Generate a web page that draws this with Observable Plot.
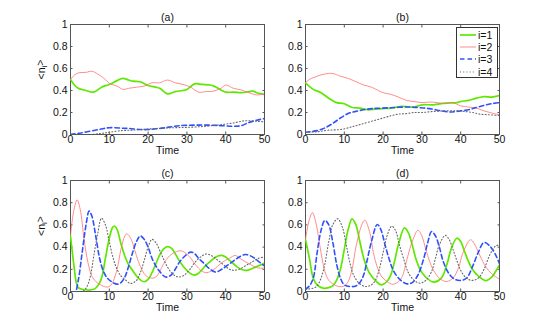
<!DOCTYPE html>
<html>
<head>
<meta charset="utf-8">
<script src="https://cdn.jsdelivr.net/npm/d3@7"></script>
<script src="https://cdn.jsdelivr.net/npm/@observablehq/plot@0.6"></script>
<style>
  html, body { margin: 0; padding: 0; background: #fff; }
  #chart { position: relative; width: 545px; height: 324px; font-family: "Liberation Sans", Arial, Helvetica, sans-serif; }
  #chart svg { position: absolute; }
  #legend { position: absolute; background: #fff; border: 1px solid #333; box-sizing: border-box; font-size: 10.5px; color: #111; }
  #legend .row { position: absolute; left: 0; height: 12px; display: flex; align-items: center; }
  #legend .row span { margin-left: 2px; }
</style>
</head>
<body>
<div id="chart"></div>
<script>
// ---------- data ----------
const xTicks = [0, 10, 20, 30, 40, 50];
const yTicks = [0, 0.2, 0.4, 0.6, 0.8, 1];
const seriesNames = ["i=1", "i=2", "i=3", "i=4"];
const seriesColors = ["#5ee800", "#ff7070", "#2f50ff", "#666666"];
const seriesWidths = [1.7, 0.8, 1.6, 1.1];
const seriesDashes = [null, null, "4.5,3", "1,2.2"];
const panelTitles = ["(a)", "(b)", "(c)", "(d)"];
const yLabel = "<n_i>";
const xLabel = "Time";

// panel (a)
const a1 = [[0,.5],[1,.45],[2,.42],[4,.40],[6,.385],[8,.43],[10,.455],[12,.49],[13.5,.51],[15,.495],[16,.485],[18,.48],[20,.445],[22,.43],[23,.42],[25,.37],[27,.39],[29,.40],[30,.41],[32,.46],[34,.455],[36,.45],[37,.44],[39,.40],[40,.385],[42,.385],[44,.38],[46,.39],[47,.395],[48,.38],[50,.365]];
const a2 = [[0,.5],[1,.54],[2,.56],[4,.565],[5.5,.575],[7,.55],[9,.5],[10,.465],[12,.44],[13.5,.41],[15,.42],[17,.43],[19,.44],[21,.47],[23,.47],[25,.495],[27,.47],[29,.455],[31,.43],[33,.385],[35,.39],[37,.395],[39,.425],[40,.45],[42,.42],[44,.405],[46,.38],[48,.36],[50,.37]];
const a3 = [[0,0],[2,.01],[5,.03],[8,.05],[10,.062],[13,.058],[15,.055],[18,.045],[20,.045],[23,.055],[26,.07],[28,.08],[32,.085],[36,.085],[39,.08],[42,.075],[44,.08],[46,.11],[48,.13],[50,.145]];
const a4 = [[0,0],[5,0],[8,.01],[10,.02],[13,.035],[16,.04],[20,.05],[25,.06],[30,.065],[35,.075],[39,.09],[42,.105],[45,.125],[48,.12],[50,.115]];

// panel (b)
const b1 = [[0,.47],[2,.41],[4,.38],[6,.33],[8,.29],[10,.28],[12,.245],[14,.24],[16,.225],[18,.23],[20,.235],[22,.24],[25,.255],[28,.25],[30,.27],[33,.27],[36,.285],[39,.29],[40,.30],[42,.31],[44,.33],[46,.345],[48,.34],[50,.355]];
const b2 = [[0,.47],[1,.5],[3,.53],[5,.55],[7,.555],[9,.53],[11,.51],[13,.48],[15,.45],[17,.43],[20,.38],[22,.365],[24,.34],[26,.31],[28,.30],[30,.29],[32,.295],[34,.29],[36,.28],[38,.29],[40,.26],[42,.25],[44,.24],[46,.215],[48,.195],[50,.18]];
const b3 = [[0,.02],[3,.035],[5,.06],[7,.10],[9,.15],[11,.19],[13,.21],[15,.225],[17,.235],[20,.24],[23,.245],[26,.25],[29,.245],[32,.235],[35,.215],[37,.205],[39,.21],[42,.225],[44,.245],[46,.265],[48,.28],[50,.29]];
const b4 = [[0,.02],[3,.025],[6,.04],[9,.045],[12,.07],[14,.09],[17,.12],[20,.15],[22,.17],[24,.185],[26,.19],[28,.20],[30,.20],[33,.21],[36,.215],[39,.215],[41,.21],[43,.20],[45,.185],[47,.18],[50,.172]];

// panel (c)
const c1 = [[0,.5],[1,.2],[1.5,.08],[2,.035],[3,.02],[6,.02],[7,.05],[8,.12],[9,.3],[10,.48],[10.8,.575],[11.3,.59],[12,.56],[13,.43],[14,.32],[15,.24],[16,.19],[17,.14],[18,.105],[19,.088],[20,.11],[21,.17],[22,.25],[23,.33],[24,.385],[25,.405],[26,.39],[27,.34],[28,.28],[29,.23],[30,.19],[31,.16],[32,.148],[33,.165],[34,.20],[35,.24],[36,.27],[37,.30],[38,.32],[39,.326],[40,.31],[41,.28],[42,.25],[43,.22],[44,.20],[45,.19],[46,.195],[47,.21],[48,.225],[49,.24],[50,.255]];
const c2 = [[0,.5],[0.8,.72],[1.7,.825],[2.5,.74],[3.5,.47],[4.5,.26],[5.5,.14],[6.5,.09],[8,.055],[9.5,.04],[10.5,.06],[12,.2],[13,.38],[14,.5],[14.5,.52],[15.5,.48],[16.5,.38],[17.5,.27],[18.5,.19],[19.5,.14],[21,.12],[22,.13],[23,.18],[24,.25],[25.5,.32],[27,.355],[28.5,.367],[29.5,.35],[31,.30],[32,.25],[33,.21],[34,.18],[35.2,.17],[37,.20],[39,.26],[41,.30],[42.5,.325],[44,.29],[46,.25],[48,.215],[49,.21],[50,.21]];
const c3 = [[0,0],[1.2,0],[2,.1],[3,.35],[4,.6],[4.8,.725],[5.5,.68],[6.5,.5],[7.5,.3],[8.5,.18],[9.5,.12],[10.5,.09],[12,.066],[13,.08],[14,.13],[15,.23],[16,.35],[17,.45],[18,.5],[19,.47],[20,.4],[21,.3],[22,.23],[23,.18],[24.5,.13],[26,.15],[27,.2],[28,.26],[29.5,.32],[31,.355],[32,.34],[33,.30],[34.5,.25],[36,.20],[37.5,.175],[39,.20],[41,.25],[43,.30],[45,.333],[47,.31],[48.5,.27],[50,.23]];
const c4 = [[0,0],[3,0],[4,.03],[5,.12],[6,.32],[7,.52],[8,.66],[9,.6],[10,.45],[11,.3],[12,.2],[13,.14],[14,.11],[15.5,.072],[17,.1],[18,.17],[19,.28],[20,.4],[21,.47],[22,.44],[23,.37],[24,.29],[25,.22],[26,.17],[27,.14],[28,.131],[29,.14],[30,.17],[31,.21],[32,.26],[33.5,.31],[35,.338],[36.5,.32],[38,.28],[39.5,.24],[41,.20],[42,.192],[43.5,.20],[45,.23],[47,.27],[48.5,.30],[50,.31]];

// panel (d)
const d1 = [[0,.47],[1,.3],[2,.12],[3,.06],[4.5,.03],[6,.035],[7,.05],[8,.1],[9,.2],[10,.38],[11,.56],[12,.655],[13,.6],[14,.45],[15,.3],[16,.2],[17,.14],[18,.1],[19.5,.06],[21,.09],[22,.15],[23,.28],[24,.43],[25.5,.573],[26.5,.53],[27.5,.42],[28.5,.29],[29.5,.2],[31,.13],[33,.085],[35,.12],[36.5,.25],[37.5,.38],[39,.48],[40,.45],[41,.36],[42,.27],[43,.2],[44.5,.14],[46.5,.098],[48,.13],[49,.18],[50,.24]];
const d2 = [[0,.47],[1,.65],[1.8,.71],[2.8,.6],[4,.35],[5,.18],[6,.1],[7,.07],[8.5,.045],[10,.05],[11,.09],[12,.2],[13,.4],[14.5,.6],[15.3,.643],[16.5,.54],[17.5,.35],[18.5,.22],[19.5,.14],[21,.09],[22.5,.065],[24,.09],[25,.14],[26,.27],[27.5,.45],[29,.552],[30,.5],[31,.38],[32,.27],[33,.19],[34.5,.12],[36.3,.09],[38,.12],[39.5,.22],[40.5,.34],[42.5,.466],[43.5,.43],[45,.32],[46.5,.22],[48,.16],[50,.11]];
const d3v = [[0,.02],[1,.05],[2,.12],[3,.35],[4,.55],[5,.64],[6,.6],[7,.45],[8,.25],[9,.12],[10,.06],[11.5,.045],[13,.05],[14,.08],[15,.15],[16,.3],[17,.45],[18.5,.604],[19.5,.55],[20.5,.42],[21.5,.3],[22.5,.2],[24,.12],[26,.07],[27.5,.08],[29,.15],[30.5,.3],[31.5,.44],[32.5,.54],[33.5,.5],[34.5,.4],[35.5,.27],[37,.16],[38.5,.11],[40,.10],[41.5,.12],[43,.22],[44.5,.35],[46,.442],[47.5,.41],[49,.33],[50,.25]];
const d4 = [[0,.02],[2,.03],[3,.05],[4,.12],[5,.25],[6,.45],[7,.6],[8.3,.655],[9.5,.58],[10.5,.42],[11.5,.25],[12.5,.14],[14,.07],[15.5,.045],[17,.06],[18,.1],[19,.2],[20,.35],[21,.5],[22.2,.588],[23.2,.55],[24.2,.42],[25.5,.27],[26.5,.17],[28,.1],[29.5,.075],[31,.1],[32.5,.18],[33.5,.3],[34.5,.42],[36,.506],[37,.47],[38,.38],[39,.28],[40,.19],[41.5,.12],[43,.10],[44.5,.12],[46,.2],[47.5,.33],[49,.41],[50,.42]];

const panelSeries = [[a1,a2,a3,a4],[b1,b2,b3,b4],[c1,c2,c3,c4],[d1,d2,d3v,d4]];

// ---------- layout ----------
const boxes = [
  {left: 0,   top: 0,   width: 272, height: 162, mL: 70, mR: 8,  mT: 24, mB: 28, yl: true},
  {left: 272, top: 0,   width: 273, height: 162, mL: 33, mR: 46, mT: 24, mB: 28, yl: false},
  {left: 0,   top: 162, width: 272, height: 162, mL: 70, mR: 8,  mT: 18, mB: 33, yl: true},
  {left: 272, top: 162, width: 273, height: 162, mL: 33, mR: 46, mT: 18, mB: 33, yl: false}
];

const chart = document.getElementById("chart");
const font = '"Liberation Sans", Arial, Helvetica, sans-serif';
const frameColor = "#555";
const fs = 10.5;
const fmt = d => String(+d.toFixed(1));
const SVGNS = "http://www.w3.org/2000/svg";

panelSeries.forEach((series, p) => {
  const b = boxes[p];
  const lines = series.map((pts, s) => Plot.line(pts, {
    x: d => d[0], y: d => d[1],
    stroke: seriesColors[s], strokeWidth: seriesWidths[s],
    strokeDasharray: seriesDashes[s] || undefined,
    curve: "catmull-rom", clip: true
  }));
  const marks = [
    Plot.frame({stroke: frameColor}),
    Plot.axisX(xTicks, {anchor: "bottom", tickSize: -2.5, tickFormat: () => "", label: null, stroke: frameColor}),
    Plot.axisX(xTicks, {anchor: "top", tickSize: -2.5, tickFormat: () => "", label: null, stroke: frameColor}),
    Plot.axisY(yTicks, {anchor: "left", tickSize: -2.5, tickFormat: () => "", label: null, stroke: frameColor}),
    Plot.axisY(yTicks, {anchor: "right", tickSize: -2.5, tickFormat: () => "", label: null, stroke: frameColor}),
    Plot.axisX(xTicks, {anchor: "bottom", tickSize: 0, tickPadding: 1.5, tickFormat: fmt, label: null, fill: "#111", fontSize: fs}),
    Plot.axisY(yTicks, {anchor: "left", tickSize: 0, tickPadding: 3, tickFormat: fmt, label: null, fill: "#111", fontSize: fs}),
    ...lines,
    Plot.text([panelTitles[p]], {text: d => d, frameAnchor: "top", lineAnchor: "bottom", dy: -4, fontSize: fs, fill: "#111"}),
    Plot.text([xLabel], {text: d => d, frameAnchor: "bottom", lineAnchor: "top", dy: 12, fontSize: fs, fill: "#111"})
  ];
  if (b.yl) marks.push(Plot.text([yLabel], {text: d => d, frameAnchor: "left", rotate: -90, dx: -29, fontSize: fs, fill: "#111"}));
  const svg = Plot.plot({
    width: b.width, height: b.height,
    marginLeft: b.mL, marginRight: b.mR, marginTop: b.mT, marginBottom: b.mB,
    x: {domain: [0, 50], axis: null},
    y: {domain: [0, 1], axis: null},
    style: {fontFamily: font, fontSize: fs + "px", background: "transparent", overflow: "visible"},
    marks
  });
  svg.style.left = b.left + "px";
  svg.style.top = b.top + "px";
  // subscript in y label
  svg.querySelectorAll("text").forEach(el => {
    if (el.textContent === yLabel) {
      el.textContent = "";
      const t1 = document.createElementNS(SVGNS, "tspan"); t1.textContent = "<n";
      const t2 = document.createElementNS(SVGNS, "tspan"); t2.textContent = "i";
      t2.setAttribute("dy", "0.3em"); t2.setAttribute("font-size", "7.5px");
      const t3 = document.createElementNS(SVGNS, "tspan"); t3.textContent = ">";
      t3.setAttribute("dy", "-0.3em");
      el.append(t1, t2, t3);
    }
  });
  chart.appendChild(svg);
});

// ---------- legend (panel b) ----------
const legend = document.createElement("div");
legend.id = "legend";
Object.assign(legend.style, {left: "456px", top: "27px", width: "42px", height: "51px"});
seriesNames.forEach((name, s) => {
  const row = document.createElement("div");
  row.className = "row";
  row.style.top = (0.5 + s * 12.4) + "px";
  row.style.left = "3px";
  const dash = seriesDashes[s] ? ` stroke-dasharray="${seriesDashes[s]}"` : "";
  row.innerHTML = `<svg width="16" height="12" style="position:static"><line x1="0" x2="16" y1="6" y2="6" stroke="${seriesColors[s]}" stroke-width="${seriesWidths[s]}"${dash}/></svg><span>${name}</span>`;
  legend.appendChild(row);
});
chart.appendChild(legend);
</script>
</body>
</html>
